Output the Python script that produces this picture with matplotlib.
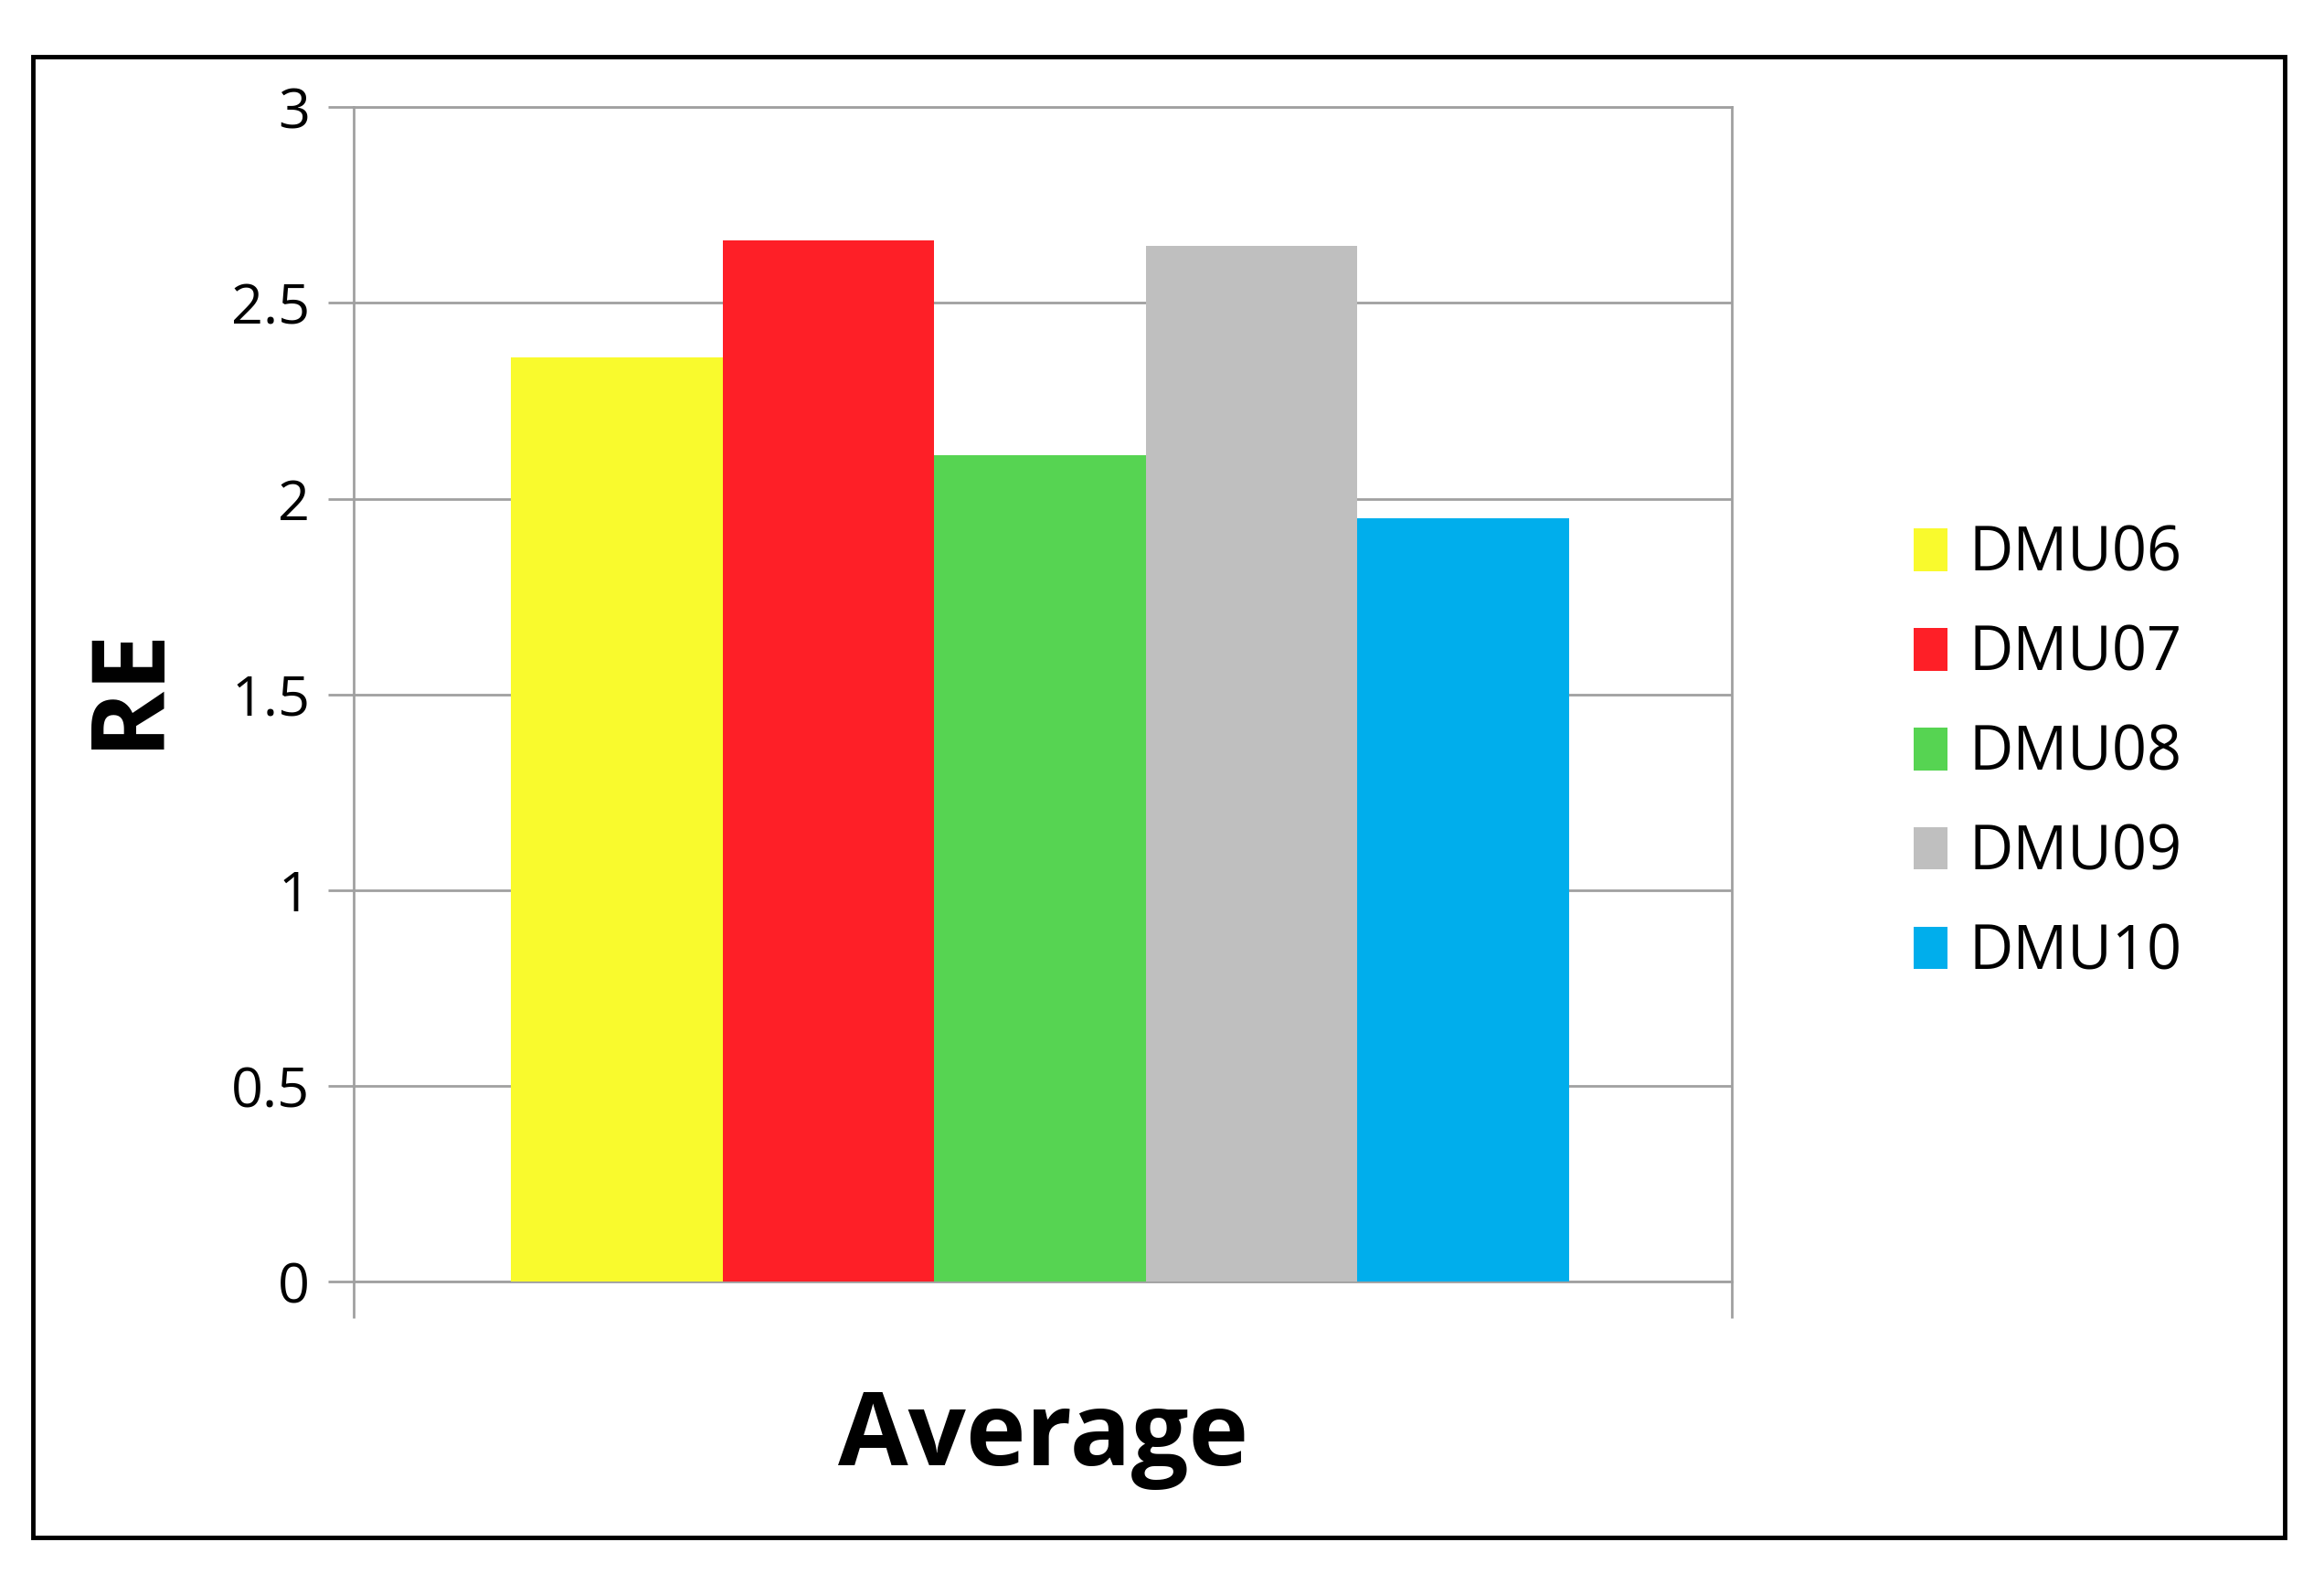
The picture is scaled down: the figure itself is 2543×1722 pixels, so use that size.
import matplotlib.pyplot as plt
from matplotlib.patches import Rectangle

# values
labels = ['DMU06', 'DMU07', 'DMU08', 'DMU09', 'DMU10']
values = [2.36, 2.66, 2.11, 2.645, 1.95]
colors = ['#f9fa2d', '#fe1f27', '#56d452', '#bfbfbf', '#00aeec']
yticks = [0, 0.5, 1, 1.5, 2, 2.5, 3]
ytick_labels = ['0', '0.5', '1', '1.5', '2', '2.5', '3']

plt.rcParams['font.family'] = ['Open Sans', 'DejaVu Sans']

fig = plt.figure(figsize=(25.43, 17.22), dpi=100)
ax = fig.add_axes([0.152, 0.1856, 0.593, 0.7464])

width = 0.1535
start = 0.1146
for i, (lab, v, c) in enumerate(zip(labels, values, colors)):
    ax.bar(start + i * width, v, width=width, align='edge', color=c, label=lab, zorder=3)

ax.set_xlim(0, 1)
ax.set_ylim(0, 3)
ax.set_yticks(yticks)
ax.set_yticklabels(ytick_labels, fontsize=44)
ax.set_xticks([0, 1])
ax.set_xticklabels(['', ''])
ax.tick_params(axis='y', length=20, width=2, color='#a0a0a0', pad=14)
ax.tick_params(axis='x', length=29, width=2, color='#a0a0a0')
ax.grid(axis='y', color='#a0a0a0', linewidth=2, zorder=0)
for s in ax.spines.values():
    s.set_color('#a0a0a0')
    s.set_linewidth(2)

fig.text(0.056, 0.564, 'RE', rotation=90, fontsize=80, fontweight='bold', ha='center', va='center')
fig.text(0.449, 0.086, 'Average', fontsize=80, fontweight='bold', ha='center', va='center')

ax.legend(loc='center left', bbox_to_anchor=(0.8, 0.521), bbox_transform=fig.transFigure,
          fontsize=48, frameon=False, handlelength=0.55, handleheight=0.7,
          handletextpad=0.35, labelspacing=0.62)

fig.add_artist(Rectangle((0.014, 0.023), 0.969, 0.941, transform=fig.transFigure,
                         fill=False, edgecolor='black', linewidth=3.5))

fig.savefig('out.png', dpi=100)
